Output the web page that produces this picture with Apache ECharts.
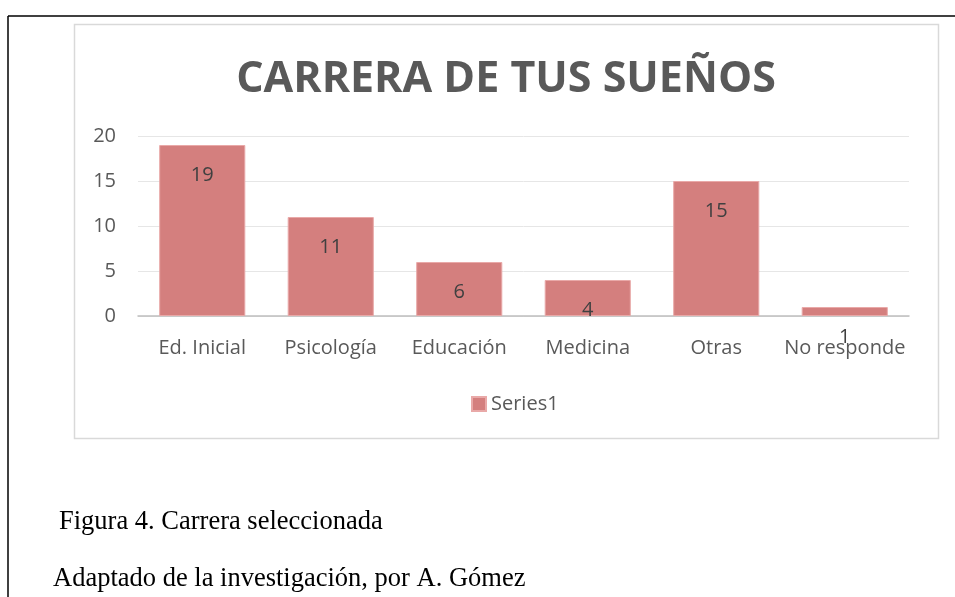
<!DOCTYPE html>
<html>
<head>
<meta charset="utf-8">
<script src="https://cdn.jsdelivr.net/npm/echarts@6/dist/echarts.min.js"></script>
<style>
  html, body { margin: 0; padding: 0; background: #fff; }
  #chart { width: 955px; height: 597px; }
</style>
</head>
<body>
<div id="chart"></div>
<script>
// datos
const categorias = ["Ed. Inicial", "Psicología", "Educación", "Medicina", "Otras", "No responde"];
const valores = [19, 11, 6, 4, 15, 1];
const nombreSerie = "Series1";
const titulo = "CARRERA DE TUS SUEÑOS";
const pieFigura = "Figura 4. Carrera seleccionada";
const fuente = "Adaptado de la investigación, por A. Gómez";

const myChart = echarts.init(document.getElementById("chart"), null, { renderer: "canvas" });
myChart.setOption({
  animation: false,
  textStyle: { fontFamily: "Open Sans" },
  title: {
    text: titulo,
    left: 501,
    textAlign: "center",
    top: 53,
    textStyle: { fontSize: 43, fontWeight: "bold", color: "#595959", fontFamily: "Open Sans" },
  },
  legend: {
    data: [nombreSerie],
    left: 466,
    top: 389,
    itemWidth: 14,
    itemHeight: 14,
    itemGap: 6,
    icon: "rect",
    textStyle: { fontSize: 20, color: "#595959" },
  },
  grid: { left: 138, right: 46, top: 136, bottom: 281 },
  xAxis: {
    type: "category",
    data: categorias,
    axisLine: { lineStyle: { color: "#bfbfbf", width: 1.5 } },
    axisTick: { show: false },
    axisLabel: { fontSize: 20, color: "#595959", margin: 22, interval: 0 },
  },
  yAxis: {
    type: "value",
    min: 0,
    max: 20,
    interval: 5,
    axisLine: { show: false },
    axisTick: { show: false },
    axisLabel: { fontSize: 20, color: "#595959", margin: 22 },
    splitLine: { lineStyle: { color: "#e6e6e6", width: 1 } },
  },
  series: [
    {
      name: nombreSerie,
      type: "bar",
      data: valores,
      barWidth: "67%",
      itemStyle: { color: "#d47f7e", borderColor: "#e9a9a8", borderWidth: 1 },
      label: {
        show: true,
        position: "insideTop",
        distance: 20,
        fontSize: 20,
        color: "#404040",
      },
    },
  ],
  graphic: [
    // marco exterior del documento
    { type: "line", shape: { x1: 8, y1: 16, x2: 955, y2: 16 }, style: { stroke: "#000", lineWidth: 1.5 } },
    { type: "line", shape: { x1: 8, y1: 16, x2: 8, y2: 597 }, style: { stroke: "#000", lineWidth: 1.5 } },
    // borde del área del gráfico
    { type: "rect", shape: { x: 74.5, y: 24.5, width: 864, height: 414 }, style: { fill: null, stroke: "#d9d9d9", lineWidth: 1.5 }, z: -1 },
    {
      type: "text", left: 59, top: 509,
      style: { text: pieFigura, font: "26.5px 'Liberation Serif'", fill: "#000" },
    },
    {
      type: "text", left: 53, top: 566,
      style: { text: fuente, font: "26.5px 'Liberation Serif'", fill: "#000" },
    },
  ],
});
</script>
</body>
</html>
